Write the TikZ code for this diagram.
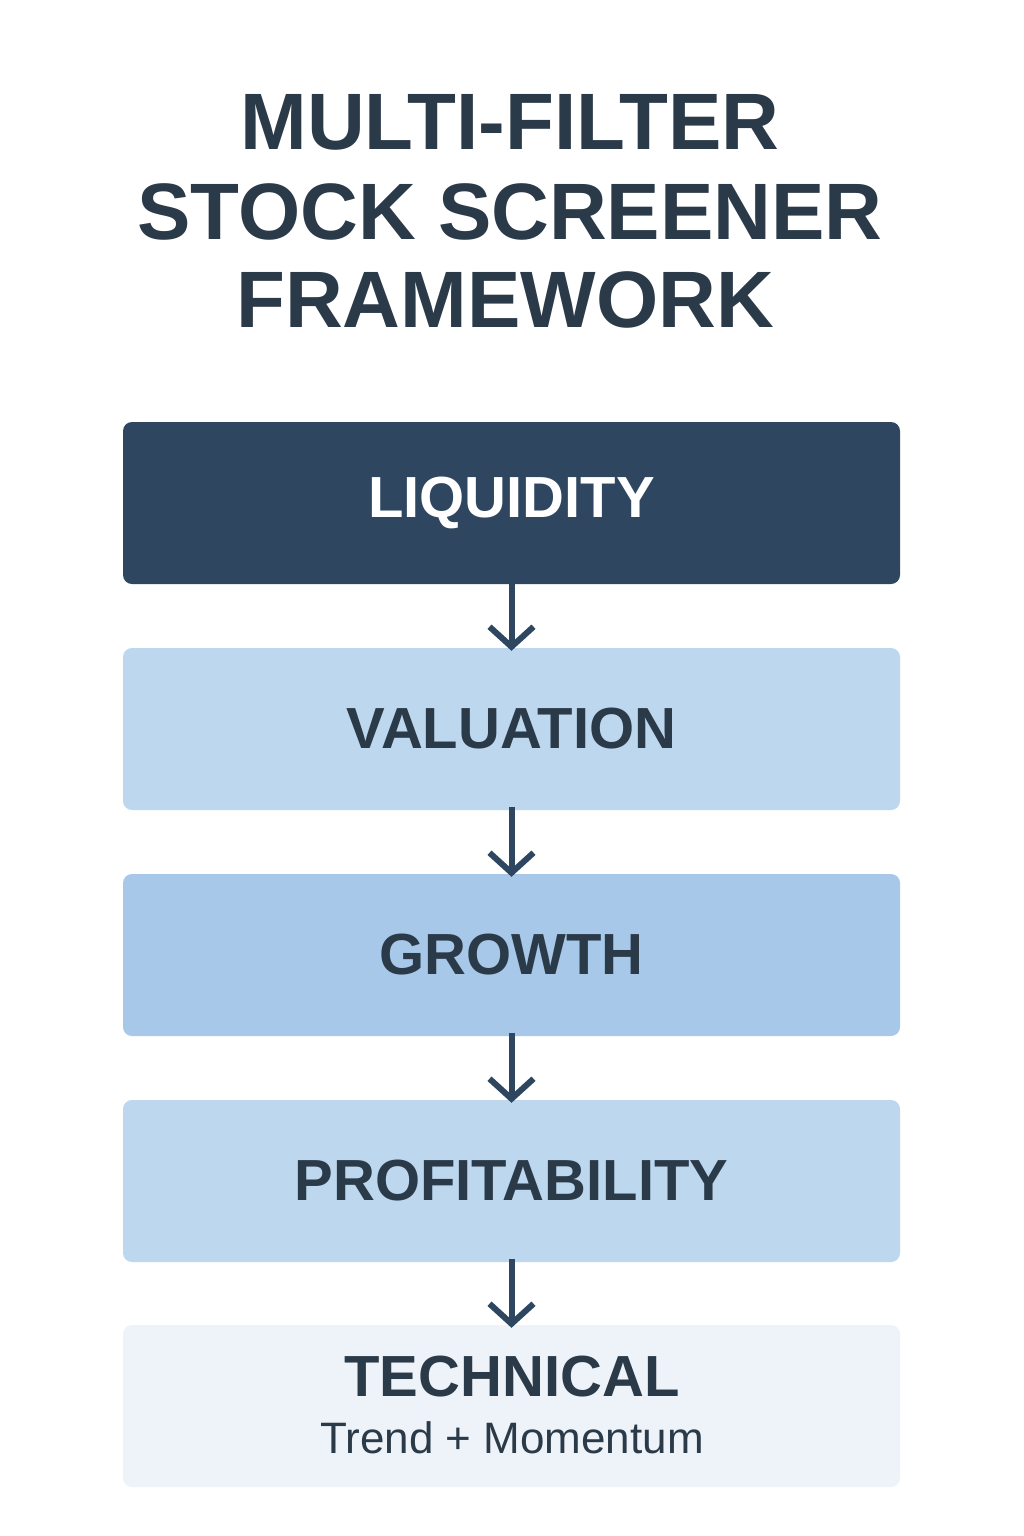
\documentclass[tikz,border=0pt]{standalone}
\usepackage{fontspec}
\setmainfont{Liberation Sans}
\usetikzlibrary{arrows.meta}
\definecolor{dark}{HTML}{2E4660}
\definecolor{txt}{HTML}{2B3A48}
\definecolor{lb}{HTML}{BDD7EE}
\definecolor{mb}{HTML}{A7C8E8}
\definecolor{pb}{HTML}{EEF3F9}
\tikzset{
 box/.style={rounded corners=9pt,minimum width=777pt,minimum height=162pt,inner sep=0pt,font=\fontsize{58}{60}\selectfont\bfseries,text=txt},
 arr/.style={draw=dark,line width=6pt,-{Straight Barb[length=20pt,width=44pt,line width=6pt]}},
 ttl/.style={font=\fontsize{80}{82}\selectfont\bfseries,text=txt}
}
\begin{document}
\begin{tikzpicture}[x=1pt,y=-1pt]
\useasboundingbox[fill=white] (0,0) rectangle (1024,1536);
\node[ttl] (t1) at (510,122) {MULTI-FILTER};
\node[ttl] (t2) at (510,212) {STOCK SCREENER};
\node[ttl] (t3) at (505,300) {FRAMEWORK};
\node[box,fill=dark,text=white] (b1) at (511.5,503) {LIQUIDITY};
\node[box,fill=lb] (b2) at (511.5,729) {VALUATION};
\node[box,fill=mb] (b3) at (511.5,955) {GROWTH};
\node[box,fill=lb] (b4) at (511.5,1181) {PROFITABILITY};
\node[box,fill=pb] (b5) at (511.5,1406) {};
\node[font=\fontsize{58}{60}\selectfont\bfseries,text=txt] (tt) at (512,1377) {TECHNICAL};
\node[font=\fontsize{44}{46}\selectfont,text=txt] (ts) at (512,1438) {Trend + Momentum};
\foreach \a/\b in {b1/b2,b2/b3,b3/b4,b4/b5}
  \draw[arr] ([yshift=3pt]\a.south) -- ([yshift=-3pt]\b.north);
\end{tikzpicture}
\end{document}
